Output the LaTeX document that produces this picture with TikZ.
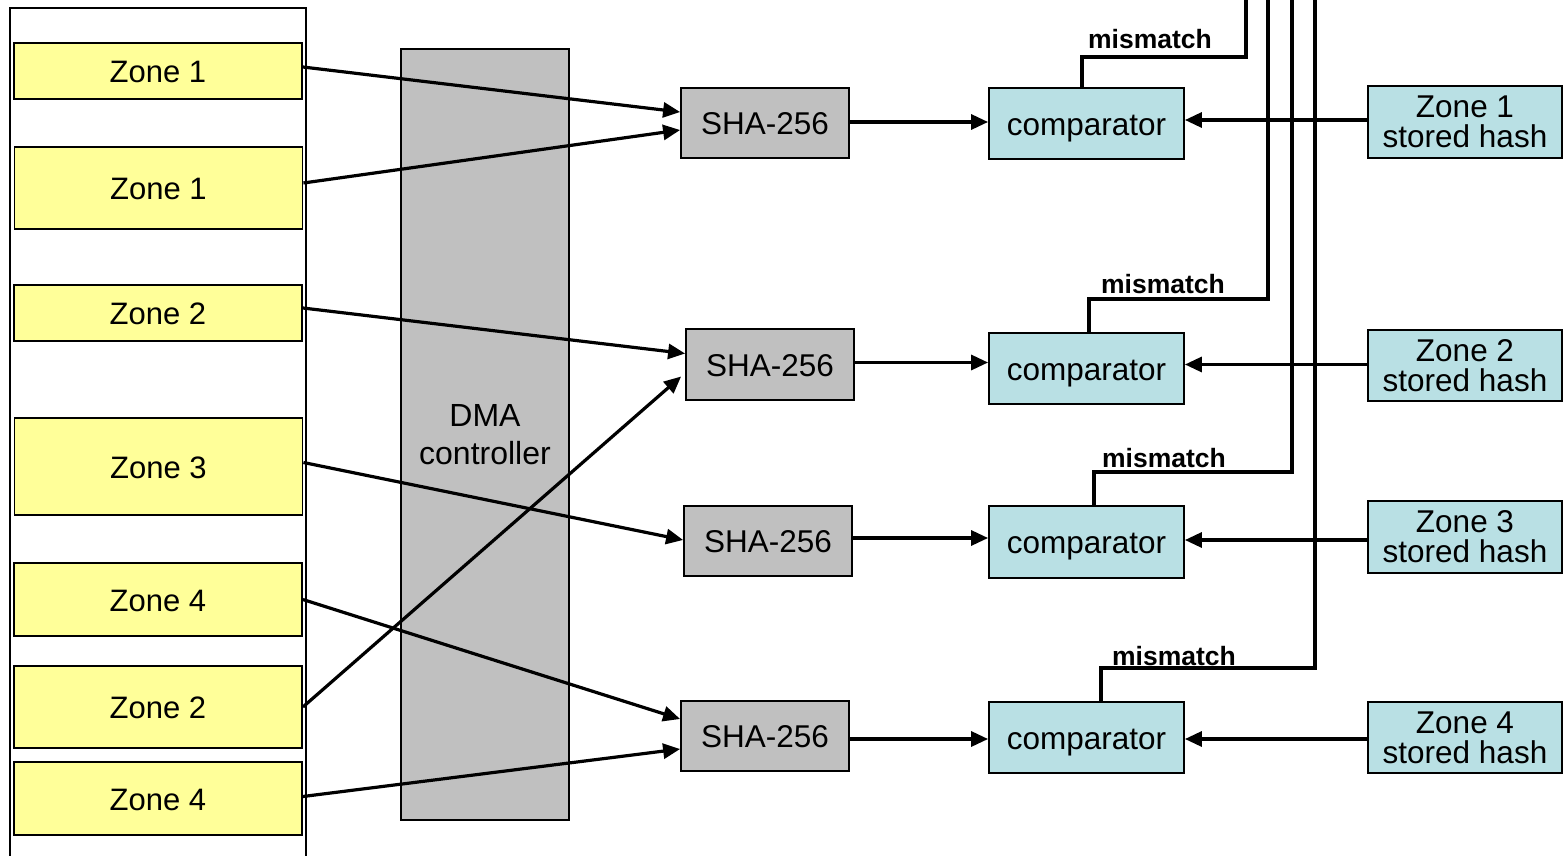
\documentclass[tikz,border=0pt]{standalone}
\usepackage{fontspec}
\setmainfont{Liberation Sans}
\usetikzlibrary{arrows.meta}
\definecolor{zonefill}{HTML}{FFFF99}
\definecolor{hashfill}{HTML}{C0C0C0}
\definecolor{cmpfill}{HTML}{B9E0E4}
\tikzset{
  box/.style={draw=black, line width=1.8pt, inner sep=0pt, align=center,
    font=\fontsize{31.5}{30}\selectfont},
  oneline/.style={text height=23.5pt, text depth=0pt},
  zonebox/.style={box, oneline, fill=zonefill, minimum width=288pt,
    font=\fontsize{31}{30}\selectfont},
  shabox/.style={box, oneline, fill=hashfill, minimum width=168pt, minimum height=70pt},
  cmpbox/.style={box, oneline, fill=cmpfill, minimum width=195pt, minimum height=71pt},
  storedbox/.style={box, fill=cmpfill, minimum width=194pt, minimum height=72pt},
  conn/.style={line width=3.2pt, -{Triangle[length=17pt,width=15pt]}},
  wire/.style={line width=3.4pt, line join=miter},
  flag/.style={font=\fontsize{26.5}{26}\selectfont\bfseries, inner sep=0pt}
}
\begin{document}
\begin{tikzpicture}[x=1pt,y=-1pt]
\useasboundingbox (0,0) rectangle (1564,856);

% memory frame holding the zones
\draw[line width=1.8pt] (10,870) -- (10,8) -- (306,8) -- (306,870);

% memory zones
\node[zonebox, minimum height=56pt] (z1a) at (158,71) {Zone 1};
\node[zonebox, minimum height=82pt] (z1b) at (158.5,188) {Zone 1};
\node[zonebox, minimum height=56pt] (z2a) at (158,313) {Zone 2};
\node[zonebox, minimum height=97pt] (z3)  at (158.5,466.5) {Zone 3};
\node[zonebox, minimum height=73pt] (z4a) at (158,599.5) {Zone 4};
\node[zonebox, minimum height=82pt] (z2b) at (158,707) {Zone 2};
\node[zonebox, minimum height=73pt] (z4b) at (158,798.5) {Zone 4};

% DMA controller
\node[box, fill=hashfill, minimum width=168pt, minimum height=771pt,
      font=\fontsize{32}{38}\selectfont] (dma) at (485,434.5) {DMA\\controller};

% hash engines
\node[shabox] (sha1) at (765,123) {SHA-256};
\node[shabox, minimum height=71pt] (sha2) at (770,364.5) {SHA-256};
\node[shabox] (sha3) at (768,541) {SHA-256};
\node[shabox] (sha4) at (765,736) {SHA-256};

% comparators
\node[cmpbox] (cmp1) at (1086.5,123.5) {comparator};
\node[cmpbox] (cmp2) at (1086.5,368.5) {comparator};
\node[cmpbox, minimum height=72pt] (cmp3) at (1086.5,542) {comparator};
\node[cmpbox] (cmp4) at (1086.5,737.5) {comparator};

% reference hashes
\node[storedbox] (h1) at (1465,122) {Zone 1\\stored hash};
\node[storedbox, minimum height=71pt] (h2) at (1465,365.5) {Zone 2\\stored hash};
\node[storedbox] (h3) at (1465,537) {Zone 3\\stored hash};
\node[storedbox, minimum height=71pt] (h4) at (1465,737.5) {Zone 4\\stored hash};

% zones into hash engines
\draw[conn] ([yshift=4pt]z1a.east) -- ([yshift=11pt]sha1.west);
\draw[conn] ([yshift=5pt]z1b.east) -- ([yshift=-7pt]sha1.west);
\draw[conn] ([yshift=5pt]z2a.east) -- ([yshift=11pt]sha2.west);
\draw[conn] (z2b.east) -- ([yshift=-12pt,xshift=-4pt]sha2.west);
\draw[conn] ([yshift=4pt]z3.east) -- ([yshift=1pt]sha3.west);
\draw[conn] (z4a.east) -- ([yshift=17pt]sha4.west);
\draw[conn] ([yshift=2pt]z4b.east) -- ([yshift=-13pt]sha4.west);

% digests into comparators
\draw[conn] ([yshift=1pt]sha1.east) -- ([yshift=1pt]sha1.east -| cmp1.west);
\draw[conn] ([yshift=2pt]sha2.east) -- ([yshift=2pt]sha2.east -| cmp2.west);
\draw[conn] ([yshift=3pt]sha3.east) -- ([yshift=3pt]sha3.east -| cmp3.west);
\draw[conn] ([yshift=-3pt]sha4.east) -- ([yshift=-3pt]sha4.east -| cmp4.west);

% stored hashes into comparators
\draw[conn] ([yshift=2pt]h1.west) -- ([yshift=2pt]h1.west -| cmp1.east);
\draw[conn] ([yshift=1pt]h2.west) -- ([yshift=1pt]h2.west -| cmp2.east);
\draw[conn] ([yshift=-3pt]h3.west) -- ([yshift=-3pt]h3.west -| cmp3.east);
\draw[conn] ([yshift=-1.5pt]h4.west) -- ([yshift=-1.5pt]h4.west -| cmp4.east);

% mismatch signal lines
\coordinate (k1) at (1246,57);   \coordinate (t1) at (1246,-4);
\coordinate (k2) at (1268,299);  \coordinate (t2) at (1268,-4);
\coordinate (k3) at (1292,472);  \coordinate (t3) at (1292,-4);
\coordinate (k4) at (1315,668);  \coordinate (t4) at (1315,-4);
\draw[wire] ([xshift=-4.5pt]cmp1.north) |- (k1) -- (t1);
\draw[wire] ([xshift=2.5pt]cmp2.north) |- (k2) -- (t2);
\draw[wire] ([xshift=7.5pt]cmp3.north) |- (k3) -- (t3);
\draw[wire] ([xshift=14.5pt]cmp4.north) |- (k4) -- (t4);

\node[flag] (m1) at (1150,39) {mismatch};
\node[flag] (m2) at (1163,284) {mismatch};
\node[flag] (m3) at (1164,458) {mismatch};
\node[flag] (m4) at (1174,656) {mismatch};
\end{tikzpicture}
\end{document}
